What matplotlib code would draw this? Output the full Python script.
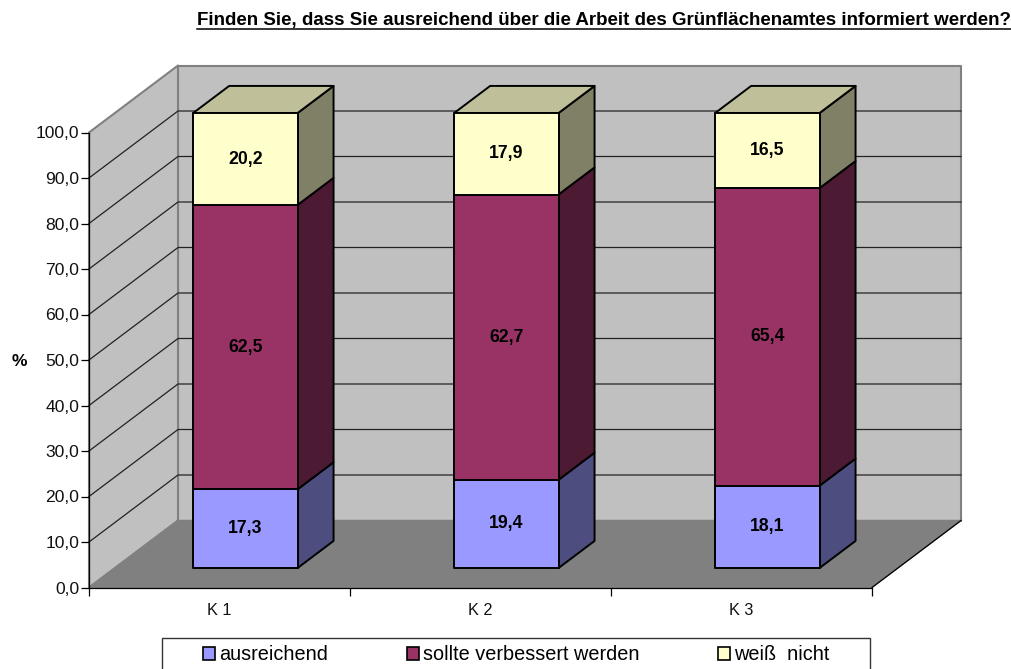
import matplotlib
matplotlib.use("Agg")
import matplotlib.pyplot as plt
from matplotlib.lines import Line2D
from matplotlib.patches import Patch, Polygon, Rectangle

categories = ["K 1", "K 2", "K 3"]
series_names = ["ausreichend", "sollte verbessert werden", "weiß  nicht"]
ausreichend = [17.3, 19.4, 18.1]
verbessert = [62.5, 62.7, 65.4]
weiss_nicht = [20.2, 17.9, 16.5]
y_ticks = [0, 10, 20, 30, 40, 50, 60, 70, 80, 90, 100]
title = "Finden Sie, dass Sie ausreichend über die Arbeit des Grünflächenamtes informiert werden?"

front_colors = ["#9999FF", "#993366", "#FFFFCC"]
side_colors = ["#4D4D80", "#4D1A33", "#808066"]
top_color = "#BFBF99"

# oblique projection: full depth shifts a point right and up, in data units
DEPTH_X = 89 / 261
DEPTH_Y = 67 / 4.55
BAR_WIDTH = 0.40
BAR_FRONT = 0.29
BAR_BACK = 0.695

plt.rcParams["font.family"] = ["Liberation Sans", "DejaVu Sans"]

W, H = 1012, 669
fig = plt.figure(figsize=(W / 100, H / 100), dpi=100)
ax = fig.add_axes([89 / W, (H - 587.5) / H, 783 / W, 455 / H])
ax.set_xlim(0, len(categories))
ax.set_ylim(0, 100)


def pt(x, y, d=0.0):
    return (x + d * DEPTH_X, y + d * DEPTH_Y)


def face(points, fc, ec="black", lw=1.4, z=2):
    ax.add_patch(Polygon(points, closed=True, fc=fc, ec=ec, lw=lw, zorder=z,
                         clip_on=False, joinstyle="round"))


n = len(categories)
# walls and floor
face([pt(0, 0, 1), pt(n, 0, 1), pt(n, 100, 1), pt(0, 100, 1)], "#C0C0C0", "#808080", 1.5, 1)
face([pt(0, 0), pt(0, 0, 1), pt(0, 100, 1), pt(0, 100)], "#C0C0C0", "#808080", 1.5, 1)

# no gridline at 100, the wall edge stays grey there
for v in y_ticks[1:-1]:
    a, b, c = pt(0, v), pt(0, v, 1), pt(n, v, 1)
    ax.plot([a[0], b[0], c[0]], [a[1], b[1], c[1]], color="#222222", lw=0.9,
            zorder=1.5, clip_on=False)

face([pt(0, 0), pt(n, 0), pt(n, 0, 1), pt(0, 0, 1)], "#808080", "#808080", 1.0, 1.6)
ax.plot(*zip(pt(n, 0), pt(n, 0, 1)), color="black", lw=0.9, zorder=1.7, clip_on=False)

# stacked bars
for i in range(n):
    left = i + 0.5 - BAR_WIDTH / 2
    right = i + 0.5 + BAR_WIDTH / 2
    bottom = 0
    for j, values in enumerate([ausreichend, verbessert, weiss_nicht]):
        v = values[i]
        top = bottom + v
        base_f = pt(0, bottom, BAR_FRONT)[1]
        top_f = pt(0, top, BAR_FRONT)[1]
        l_f, r_f = pt(left, 0, BAR_FRONT)[0], pt(right, 0, BAR_FRONT)[0]
        face([pt(right, bottom, BAR_FRONT), pt(right, bottom, BAR_BACK),
              pt(right, top, BAR_BACK), pt(right, top, BAR_FRONT)], side_colors[j], z=3)
        face([(l_f, base_f), (r_f, base_f), (r_f, top_f), (l_f, top_f)], front_colors[j], z=4)
        ax.text((l_f + r_f) / 2, (base_f + top_f) / 2, f"{v:.1f}".replace(".", ","),
                ha="center", va="center", fontsize=12.7, fontweight="bold", color="black", zorder=6)
        bottom = top
    face([pt(left, bottom, BAR_FRONT), pt(right, bottom, BAR_FRONT),
          pt(right, bottom, BAR_BACK), pt(left, bottom, BAR_BACK)], top_color, z=3)

# axes
for name in ["top", "right"]:
    ax.spines[name].set_visible(False)
for name in ["left", "bottom"]:
    ax.spines[name].set_linewidth(0.9)
    ax.spines[name].set_zorder(5)
ax.patch.set_visible(False)
ax.set_yticks(y_ticks)
ax.set_yticklabels([f"{v:.1f}".replace(".", ",") for v in y_ticks], fontsize=12.6, color="#111111")
ax.set_xticks(range(n + 1))
ax.set_xticklabels([])
ax.tick_params(axis="both", length=5.5, width=0.9, pad=1.5)

for i, name in enumerate(categories):
    ax.text(i + 0.5, -5, name, ha="center", va="center", fontsize=11.7, color="#111111")

fig.text(19 / W, 1 - 361 / H, "%", ha="center", va="center", fontsize=12.6, fontweight="bold")

# title with underline
t = fig.text(1011 / W, 1 - 24.5 / H, title, ha="right", va="baseline", fontsize=13.5, fontweight="bold")
fig.canvas.draw()
box = t.get_window_extent()
uy = (H - 28.5) / H
fig.add_artist(Line2D([box.x0 / W, box.x1 / W], [uy, uy], color="black", lw=1.1))

# legend box runs off the bottom edge of the image
fig.add_artist(Rectangle((162 / W, -2 / H), 708 / W, 33 / H, transform=fig.transFigure,
                         fc="white", ec="#333333", lw=1.0))
handles = [Patch(fc=c, ec="black", lw=1.2) for c in front_colors]
fig.legend(handles, series_names, ncol=3, loc="center left", frameon=False,
           bbox_to_anchor=(203 / W, 1 - 655 / H), fontsize=14.3, handlelength=0.6,
           handleheight=0.6, handletextpad=0.22, columnspacing=3.95, borderpad=0,
           borderaxespad=0)

fig.savefig("out.png", dpi=100)
